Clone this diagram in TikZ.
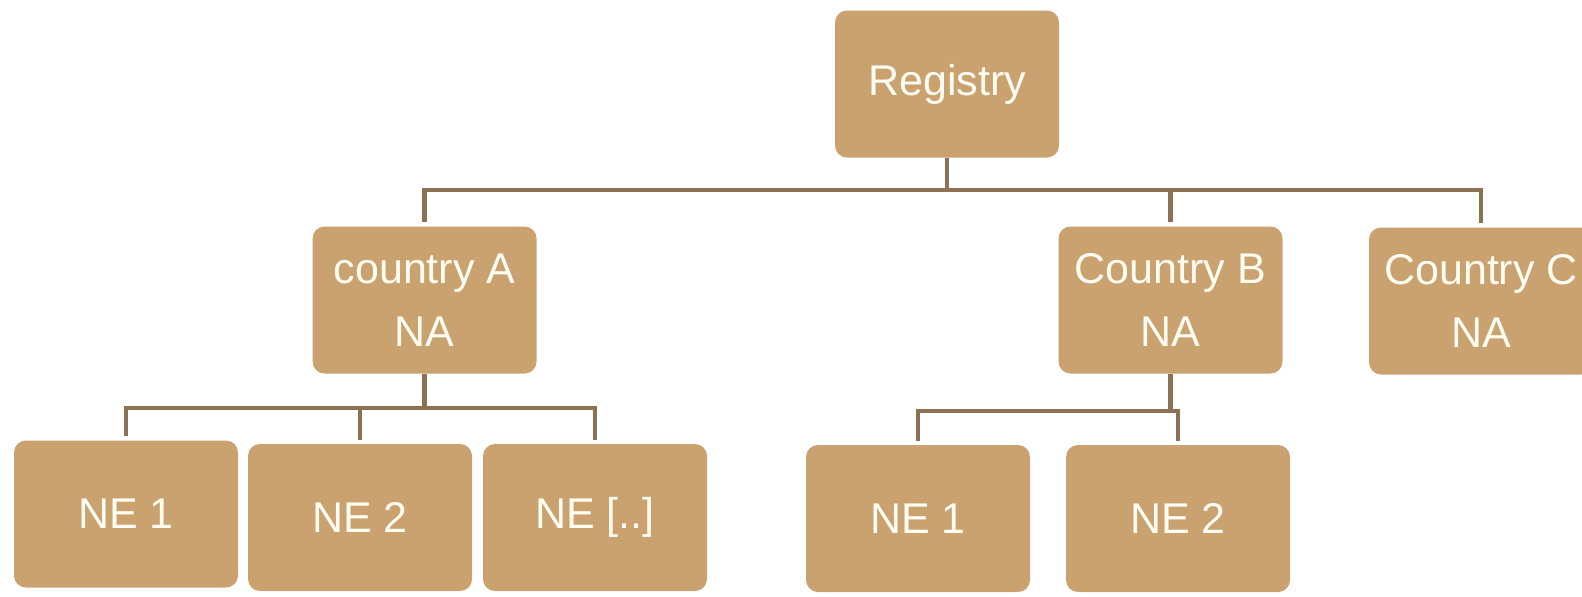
\documentclass[tikz,border=0pt]{standalone}
\usepackage{fontspec}
\setmainfont{Liberation Sans}
\definecolor{boxfill}{HTML}{C9A270}
\definecolor{linecol}{HTML}{8C7152}
\definecolor{txtcol}{HTML}{FFFCF2}
\begin{document}
\begin{tikzpicture}[x=0.5pt,y=-0.5pt,
  box/.style={rectangle, rounded corners=6pt, fill=boxfill, text=txtcol,
    minimum width=112pt, minimum height=73.5pt, inner sep=0pt, align=center,
    font=\fontsize{21.5}{31.5}\selectfont},
  conn/.style={draw=linecol, line width=2.3pt, shorten >=2pt}]
\useasboundingbox[fill=white] (0,0) rectangle (1582,596);
\node[box] (reg) at (947,84) {Registry};
\node[box] (ca) at (424.5,300) {country A\\NA};
\node[box] (cb) at (1170.5,300) {Country B\\NA};
\node[box] (cc) at (1481,301) {Country C\\NA};
\node[box] (a1) at (126,514) {NE 1};
\node[box] (a2) at (360,517.5) {NE 2};
\node[box] (a3) at (595,517.5) {NE [..]};
\node[box] (b1) at (918,518.5) {NE 1};
\node[box] (b2) at (1178,518.5) {NE 2};
% registry bus
\draw[conn] (reg.south) -- ++(0,32) -| (ca.north);
\draw[conn] (reg.south) -- ++(0,32) -| (cb.north);
\draw[conn] (reg.south) -- ++(0,32) -| (cc.north);
% country A bus
\draw[conn] (ca.south) -- ++(0,34) -| (a1.north);
\draw[conn] (ca.south) -- ++(0,34) -| (a2.north);
\draw[conn] (ca.south) -- ++(0,34) -| (a3.north);
% country B bus
\draw[conn] (cb.south) -- ++(0,37) -| (b1.north);
\draw[conn] (cb.south) -- ++(0,37) -| (b2.north);
\end{tikzpicture}
\end{document}
